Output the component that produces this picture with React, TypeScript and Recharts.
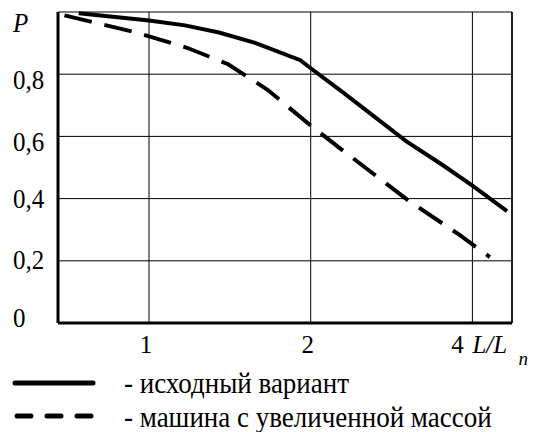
import { LineChart, Line, XAxis, YAxis, CartesianGrid, ReferenceLine } from 'recharts'

const FONT = "'Liberation Serif', 'DejaVu Serif', serif"

// L/Ln values (log scale) and probability P
const baseX = [0.74, 1.0, 1.167, 1.35, 1.576, 1.913, 2.0, 2.29, 3.01, 3.52, 4.0, 4.64]
const baseP = [0.996, 0.973, 0.957, 0.934, 0.901, 0.845, 0.819, 0.743, 0.585, 0.508, 0.442, 0.36]

const heavyX = [0.696, 0.948, 1.177, 1.404, 1.662, 2.0, 2.29, 3.05, 3.78, 4.31]
const heavyP = [0.989, 0.934, 0.885, 0.832, 0.75, 0.635, 0.556, 0.392, 0.284, 0.212]

const seriesNames = ['- исходный вариант', '- машина с увеличенной массой']

const xTicks = [1, 2, 4]
const xTickLabels = ['1', '2', '4']
const yTicks = [0, 0.2, 0.4, 0.6, 0.8, 1]
const yTickLabels = ['0', '0,2', '0,4', '0,6', '0,8', 'P']

const X_DOMAIN = [0.677, 4.74]

const baseData = baseX.map((x, i) => ({ x, p: baseP[i] }))
const heavyData = heavyX.map((x, i) => ({ x, p: heavyP[i] }))

// baseline offsets of the y labels relative to their grid line (as in the scan)
const yLabelDy: Record<number, number> = { 0: 4, 1: 8, 2: 9, 3: 15, 4: 15, 5: 20 }

// the scanned text is a bit taller than wide, so stretch it vertically
function Txt({ x, y, size = 25, sy = 1, italic = false, anchor = 'start', children }: any) {
  return (
    <text transform={`translate(${x} ${y}) scale(1 ${sy})`} fontFamily={FONT} fontSize={size}
      fontStyle={italic ? 'italic' : 'normal'} fill="#000" textAnchor={anchor}>
      {children}
    </text>
  )
}

function YTick(props: any) {
  const { y, payload, index } = props
  const label = yTickLabels[index] ?? String(payload.value)
  return (
    <Txt x={13} y={y + (yLabelDy[index] ?? 8)} sy={1.12} italic={label === 'P'}>{label}</Txt>
  )
}

function XTick(props: any) {
  const { x, y, index } = props
  const label = xTickLabels[index]
  if (index === xTicks.length - 1) {
    return (
      <g>
        <Txt x={x - 15} y={y + 30} anchor="middle">{label}</Txt>
        <Txt x={x} y={y + 30} italic>L/L</Txt>
        <Txt x={x + 46} y={y + 42} size={19} italic>n</Txt>
      </g>
    )
  }
  return <Txt x={x - 3} y={y + 30} anchor="middle">{label}</Txt>
}

export default function App() {
  return (
    <div style={{ position: 'relative', width: 533, height: 432, background: '#fff' }}>
      <style>{'body{margin:0}'}</style>
      <LineChart width={533} height={432} margin={{ top: 12, right: 21, left: 0, bottom: 64 }}>
        <CartesianGrid stroke="#000" strokeWidth={1} />
        <XAxis type="number" dataKey="x" scale="log" domain={X_DOMAIN} ticks={xTicks} allowDataOverflow
          height={45} tickLine={false} tickSize={0} tickMargin={0}
          axisLine={{ stroke: '#000', strokeWidth: 3 }} tick={<XTick />} />
        <YAxis type="number" dataKey="p" domain={[0, 1]} ticks={yTicks} width={58}
          tickLine={false} tickSize={0} tickMargin={0}
          axisLine={{ stroke: '#000', strokeWidth: 3 }} tick={<YTick />} />
        <ReferenceLine x={X_DOMAIN[1]} stroke="#000" strokeWidth={1.5} />
        <Line data={baseData} dataKey="p" name={seriesNames[0]} type="linear" stroke="#000"
          strokeWidth={4} dot={false} isAnimationActive={false} />
        <Line data={heavyData} dataKey="p" name={seriesNames[1]} type="linear" stroke="#000"
          strokeWidth={4} strokeDasharray="28 13" dot={false} isAnimationActive={false} />
      </LineChart>
      <svg width={533} height={67} style={{ position: 'absolute', left: 0, top: 365 }}>
        <line x1={15} x2={93} y1={18} y2={18} stroke="#000" strokeWidth={5} strokeLinecap="round" />
        <Txt x={124} y={28} size={27} sy={1.08}>{seriesNames[0]}</Txt>
        <line x1={17} x2={93} y1={51} y2={51} stroke="#000" strokeWidth={5} strokeDasharray="14 16" strokeLinecap="round" />
        <Txt x={124} y={62} size={27} sy={1.08}>{seriesNames[1]}</Txt>
      </svg>
    </div>
  )
}
